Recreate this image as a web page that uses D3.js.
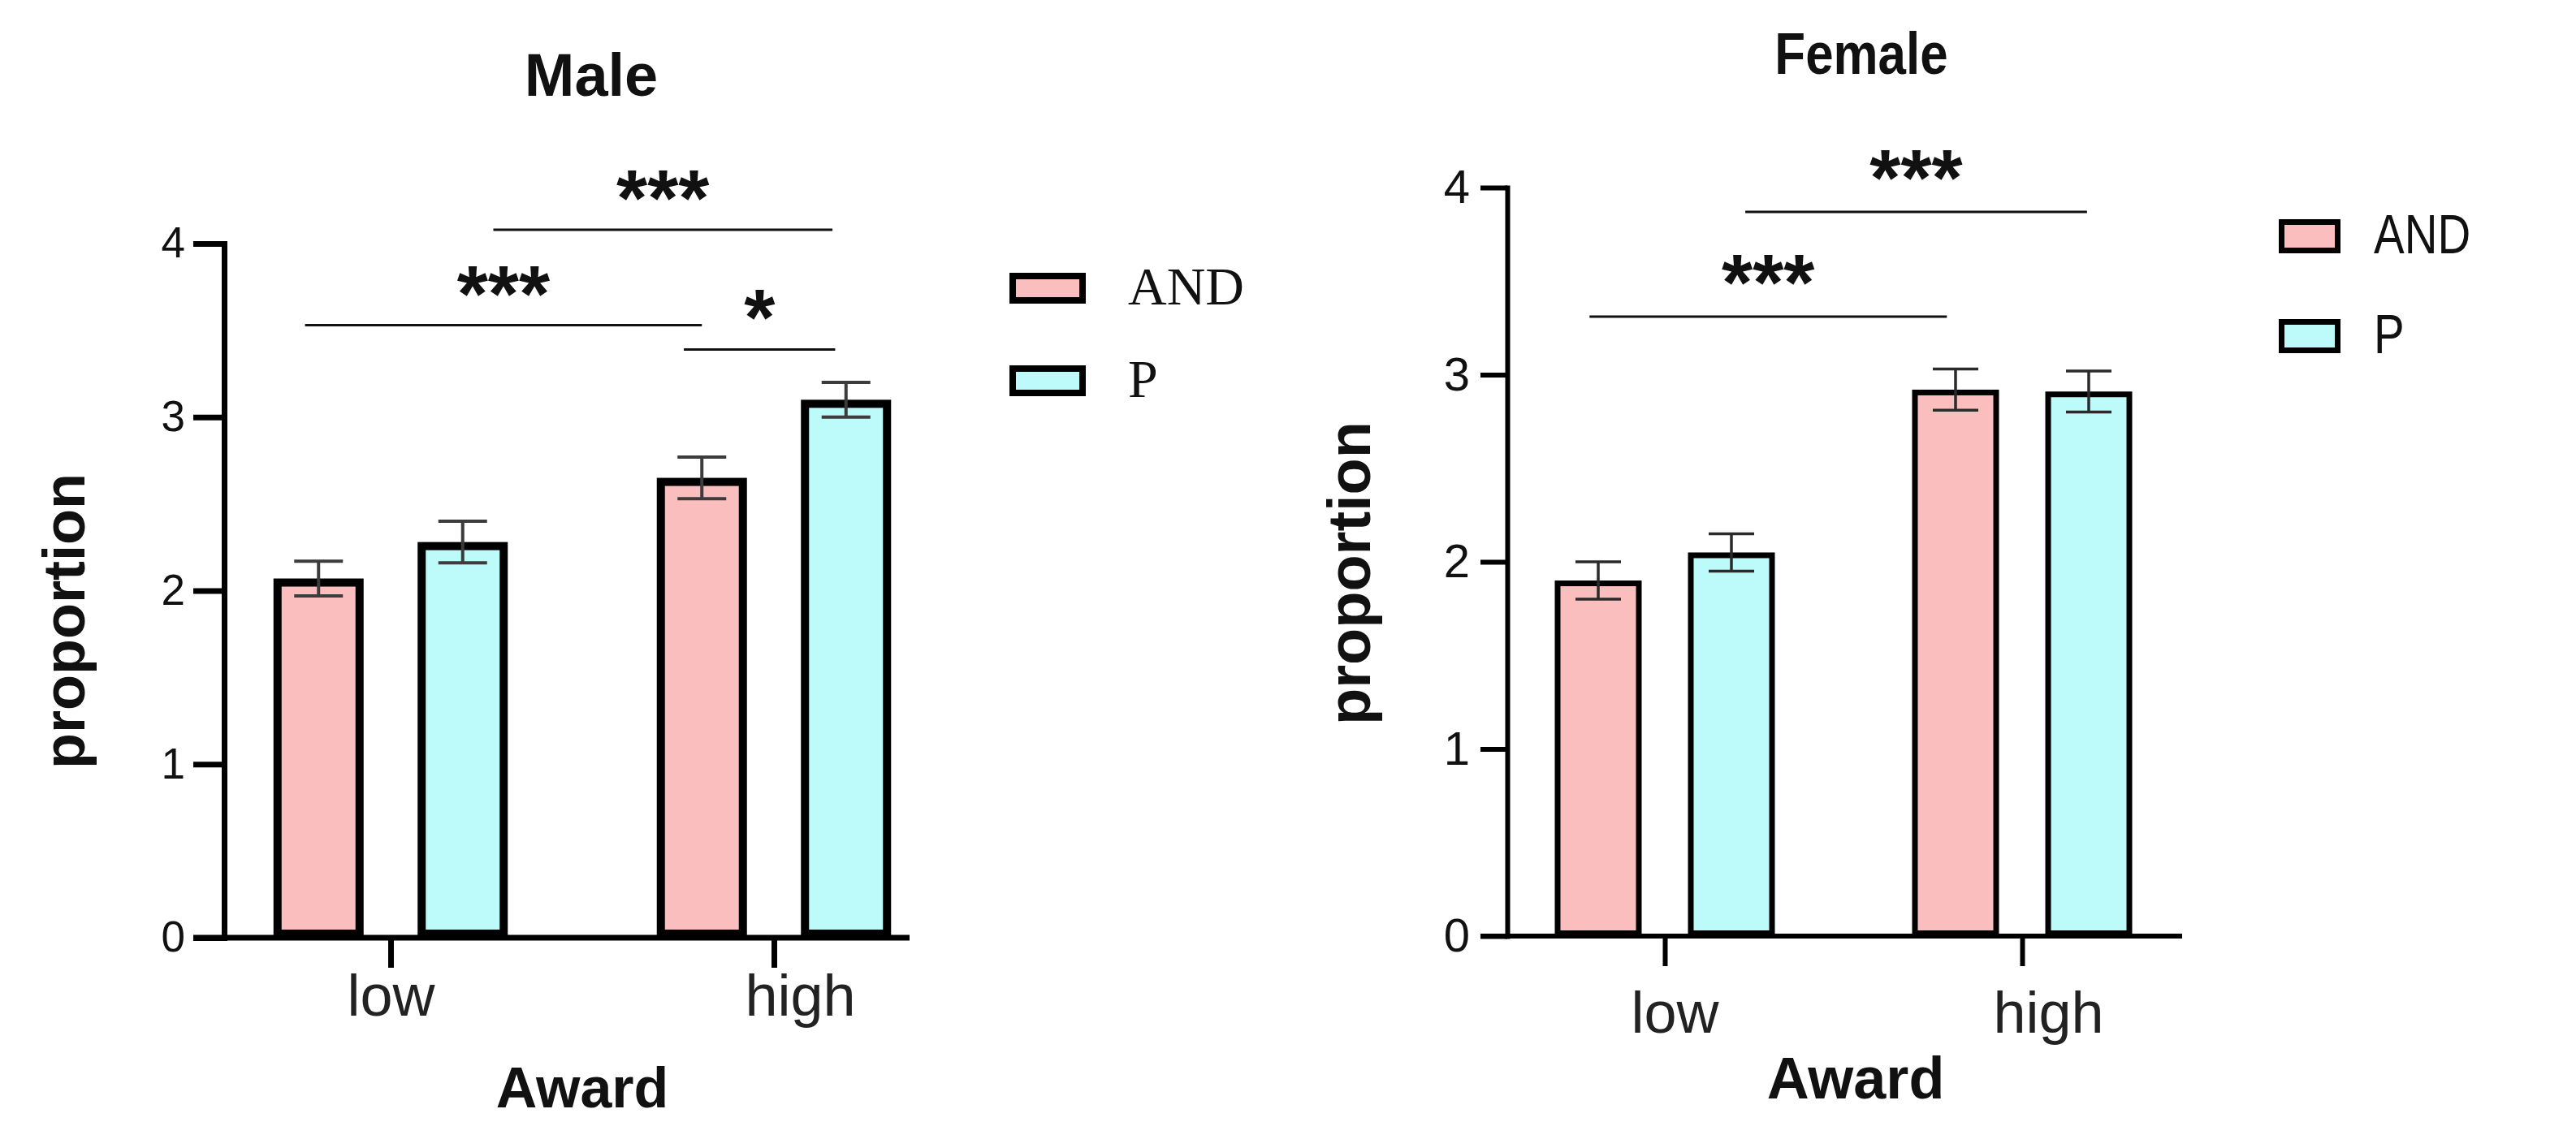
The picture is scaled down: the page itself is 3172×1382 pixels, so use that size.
<!DOCTYPE html>
<html><head><meta charset="utf-8">
<script src="https://cdn.jsdelivr.net/npm/d3@7"></script>
<style>html,body{margin:0;padding:0;background:#fff;} svg{display:block;}</style>
</head><body>
<svg id="chart" width="3172" height="1382"></svg>
<script>
// ---------------- data ----------------
const categories = ["low", "high"];
const seriesNames = ["AND", "P"];
const yTickValues = [0, 1, 2, 3, 4];

const maleAND = [2.07, 2.65];
const maleANDErr = [0.10, 0.12];
const maleP = [2.28, 3.10];
const malePErr = [0.12, 0.10];

const femaleAND = [1.90, 2.92];
const femaleANDErr = [0.10, 0.11];
const femaleP = [2.05, 2.91];
const femalePErr = [0.10, 0.11];

const maleSig = [
  {from: ["low", "AND"], to: ["high", "AND"], y: 3.53, label: "***"},
  {from: ["low", "P"], to: ["high", "P"], y: 4.08, label: "***"},
  {from: ["high", "AND"], to: ["high", "P"], y: 3.39, label: "*"}
];
const femaleSig = [
  {from: ["low", "AND"], to: ["high", "AND"], y: 3.31, label: "***"},
  {from: ["low", "P"], to: ["high", "P"], y: 3.87, label: "***"}
];

// ---------------- layout / style ----------------
const svg = d3.select("#chart");
const color = d3.scaleOrdinal().domain(seriesNames).range(["#FBBEBE", "#BDFAFA"]);
const sans = "'Liberation Sans', Arial, sans-serif";

const maleLayout = {
  title: "Male", titleX: 728, titleY: 118, titleSize: 74, titleScaleX: 1,
  xRange: [481, 953], yRange: [1155, 300], innerSpan: 288.5, innerPad: 0.3746,
  axisX: 276, axisW: 7, yTickLen: 38, yTickPad: 10, yTickSize: 53,
  xAxisEnd: 1120, xTickLen: 37, xTickPad: 8, xTickSize: 72, xLabelDx: [0, 32],
  barStroke: 10, errW: 4, capW: 60, errColor: "#3c3c3c",
  sigW: 3, sigInsets: [[-0.15, 0], [0.34, -0.15], [-0.2, -0.12]], starSize: 98, starGap: 49,
  yLabelX: 104, yLabelY: 765, yLabelSize: 72,
  xLabelX: 717, xLabelY: 1364, xLabelSize: 70,
  legend: {x: 1243, ys: [336, 450], w: 94, h: 38, sw: 8, textX: 1389, textDy: 39, size: 66,
           scaleX: 1, family: "'Liberation Serif', 'Times New Roman', serif"}
};
const femaleLayout = {
  title: "Female", titleX: 2292, titleY: 91, titleSize: 72, titleScaleX: 0.86,
  xRange: [2050, 2490], yRange: [1153, 231], innerSpan: 271, innerPad: 0.3476,
  axisX: 1856, axisW: 6, yTickLen: 33, yTickPad: 13, yTickSize: 58,
  xAxisEnd: 2687, xTickLen: 37, xTickPad: 31, xTickSize: 72, xLabelDx: [12, 32],
  barStroke: 7, errW: 3.5, capW: 56, errColor: "#2a2a2a",
  sigW: 3, sigInsets: [[-0.1, -0.1], [0.16, -0.02]], starSize: 98, starGap: 52,
  yLabelX: 1687, yLabelY: 706, yLabelSize: 74,
  xLabelX: 2285, xLabelY: 1353, xLabelSize: 72,
  legend: {x: 2806, ys: [270, 393], w: 76, h: 42, sw: 7, textX: 2923, textDy: 42, size: 68,
           scaleX: 0.83, family: sans}
};

function drawPanel(L, andVals, andErr, pVals, pErr, sigs) {
  const g = svg.append("g");
  const x0 = d3.scalePoint().domain(categories).range(L.xRange);
  const x1 = d3.scaleBand().domain(seriesNames)
    .range([-L.innerSpan / 2, L.innerSpan / 2]).paddingInner(L.innerPad);
  const y = d3.scaleLinear().domain([0, 4]).range(L.yRange);
  const bw = x1.bandwidth();
  const cx = (cat, s) => x0(cat) + x1(s) + bw / 2;

  const rows = categories.flatMap((c, i) => [
    {cat: c, s: "AND", v: andVals[i], e: andErr[i]},
    {cat: c, s: "P", v: pVals[i], e: pErr[i]}
  ]);

  const sw = L.barStroke;
  g.selectAll("rect.bar").data(rows).join("rect").attr("class", "bar")
    .attr("x", d => x0(d.cat) + x1(d.s) + sw / 2)
    .attr("y", d => y(d.v) + sw / 2)
    .attr("width", bw - sw)
    .attr("height", d => y(0) - y(d.v) - sw)
    .attr("fill", d => color(d.s))
    .attr("stroke", "#000").attr("stroke-width", sw);

  const eb = g.selectAll("g.err").data(rows).join("g").attr("class", "err")
    .attr("stroke", L.errColor).attr("stroke-width", L.errW);
  eb.append("line")
    .attr("x1", d => cx(d.cat, d.s)).attr("x2", d => cx(d.cat, d.s))
    .attr("y1", d => y(d.v + d.e)).attr("y2", d => y(d.v - d.e));
  eb.append("line")
    .attr("x1", d => cx(d.cat, d.s) - L.capW / 2).attr("x2", d => cx(d.cat, d.s) + L.capW / 2)
    .attr("y1", d => y(d.v + d.e)).attr("y2", d => y(d.v + d.e));
  eb.append("line")
    .attr("x1", d => cx(d.cat, d.s) - L.capW / 2).attr("x2", d => cx(d.cat, d.s) + L.capW / 2)
    .attr("y1", d => y(d.v - d.e)).attr("y2", d => y(d.v - d.e));

  const ya = g.append("g").attr("transform", `translate(${L.axisX},0)`)
    .call(d3.axisLeft(y).tickValues(yTickValues).tickSize(L.yTickLen)
      .tickPadding(L.yTickPad).tickSizeOuter(0).tickFormat(d3.format("d")));
  ya.select(".domain").attr("stroke", "#000").attr("stroke-width", L.axisW).attr("stroke-linecap", "square");
  ya.selectAll(".tick line").attr("stroke", "#000").attr("stroke-width", L.axisW);
  ya.selectAll(".tick text").attr("font-family", sans).attr("font-size", L.yTickSize).attr("fill", "#111");

  g.append("line")
    .attr("x1", L.axisX - L.yTickLen).attr("x2", L.xAxisEnd)
    .attr("y1", y(0)).attr("y2", y(0))
    .attr("stroke", "#000").attr("stroke-width", L.axisW);
  const xa = g.append("g").attr("transform", `translate(0,${y(0)})`)
    .call(d3.axisBottom(x0).tickSize(L.xTickLen).tickPadding(L.xTickPad).tickSizeOuter(0));
  xa.select(".domain").remove();
  xa.selectAll(".tick line").attr("stroke", "#000").attr("stroke-width", L.axisW);
  xa.selectAll(".tick text").attr("font-family", sans).attr("font-size", L.xTickSize).attr("fill", "#222")
    .attr("dx", (d, i) => L.xLabelDx[i]);

  sigs.forEach((s, i) => {
    const [a, b] = L.sigInsets[i];
    const xa1 = cx(s.from[0], s.from[1]) + a * bw;
    const xb1 = cx(s.to[0], s.to[1]) + b * bw;
    g.append("line").attr("x1", xa1).attr("x2", xb1)
      .attr("y1", y(s.y)).attr("y2", y(s.y))
      .attr("stroke", "#111").attr("stroke-width", L.sigW);
    g.append("text").attr("x", (xa1 + xb1) / 2)
      .attr("y", y(s.y) - L.starGap + 0.45 * L.starSize)
      .attr("text-anchor", "middle").attr("font-family", sans).attr("font-weight", "bold")
      .attr("font-size", L.starSize).attr("fill", "#111").text(s.label);
  });

  g.append("text").attr("transform", `translate(${L.titleX},${L.titleY}) scale(${L.titleScaleX},1)`)
    .attr("text-anchor", "middle")
    .attr("font-family", sans).attr("font-weight", "bold").attr("font-size", L.titleSize)
    .attr("fill", "#111").text(L.title);
  g.append("text").attr("transform", `translate(${L.yLabelX},${L.yLabelY}) rotate(-90)`)
    .attr("text-anchor", "middle").attr("font-family", sans).attr("font-weight", "bold")
    .attr("font-size", L.yLabelSize).attr("fill", "#111").text("proportion");
  g.append("text").attr("x", L.xLabelX).attr("y", L.xLabelY).attr("text-anchor", "middle")
    .attr("font-family", sans).attr("font-weight", "bold").attr("font-size", L.xLabelSize)
    .attr("fill", "#111").text("Award");

  const lg = g.append("g");
  seriesNames.forEach((s, i) => {
    const top = L.legend.ys[i];
    const lw = L.legend.sw;
    lg.append("rect").attr("x", L.legend.x + lw / 2).attr("y", top + lw / 2)
      .attr("width", L.legend.w - lw).attr("height", L.legend.h - lw)
      .attr("fill", color(s)).attr("stroke", "#000").attr("stroke-width", lw);
    lg.append("text")
      .attr("transform", `translate(${L.legend.textX},${top + L.legend.textDy}) scale(${L.legend.scaleX},1)`)
      .attr("font-family", L.legend.family).attr("font-size", L.legend.size)
      .attr("fill", "#111").text(s);
  });
}

drawPanel(maleLayout, maleAND, maleANDErr, maleP, malePErr, maleSig);
drawPanel(femaleLayout, femaleAND, femaleANDErr, femaleP, femalePErr, femaleSig);
</script>
</body></html>
